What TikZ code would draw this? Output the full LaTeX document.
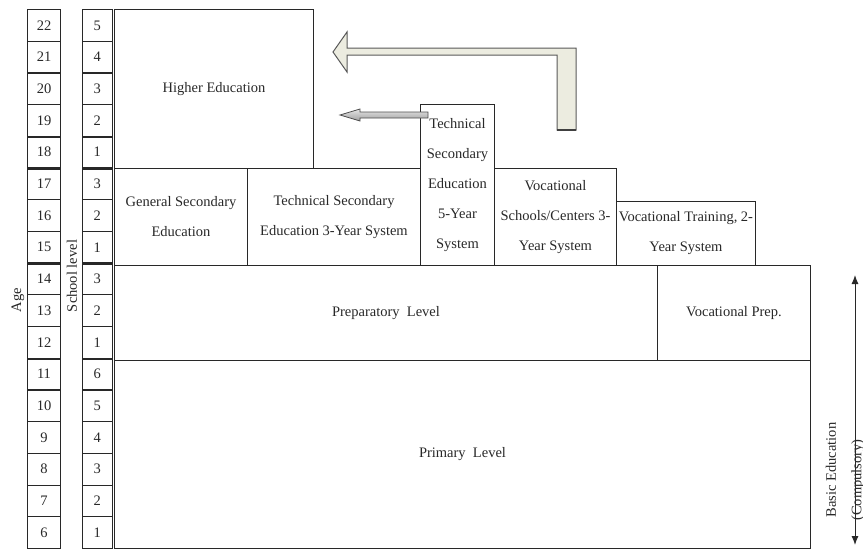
\documentclass[tikz,border=0pt]{standalone}
\usepackage{fontspec}
\setmainfont{Liberation Serif}
\usetikzlibrary{arrows.meta}
\definecolor{beige}{RGB}{236,236,224}
\definecolor{ink}{RGB}{40,40,40}
\begin{document}
\begin{tikzpicture}[x=1pt,y=-1pt,
  box/.style={draw=ink, line width=1pt, inner sep=0pt, anchor=north west,
    font=\fontsize{14.5}{30}\selectfont, text=ink, align=center},
  cell/.style={draw=ink, line width=1pt, anchor=north west, inner sep=0pt,
    minimum height=31.7pt, font=\fontsize{14.5}{16}\selectfont, text=ink},
  sidelbl/.style={rotate=90, inner sep=0pt, font=\fontsize{14.5}{16}\selectfont, text=ink},
  sep/.style={line width=2.4pt, draw=ink},
]
\useasboundingbox (0,0) rectangle (863,550);

% Age and school level columns
\foreach \a/\s [count=\i from 0] in {22/5,21/4,20/3,19/2,18/1,17/3,16/2,15/1,14/3,13/2,12/1,11/6,10/5,9/4,8/3,7/2,6/1}{
  \node[cell, minimum width=33pt] (age\a) at (27,{9+31.7*\i}) {\a};
  \node[cell, minimum width=29.5pt] (lev\a) at (82,{9+31.7*\i}) {\s};
}
% stage separators
\foreach \r in {18,15,12}{
  \draw[sep] (age\r.south west) -- (age\r.south east);
  \draw[sep] (lev\r.south west) -- (lev\r.south east);
}
\foreach \r in {21,19,11,8}{
  \draw[line width=1.6pt, draw=ink] (age\r.south west) -- (age\r.south east);
  \draw[line width=1.6pt, draw=ink] (lev\r.south west) -- (lev\r.south east);
}

\node[sidelbl] (agelbl) at (18,300) {Age};
\node[sidelbl] (levlbl) at (72,276) {School level};

% Main boxes
\node[box, minimum width=199pt, minimum height=159pt] (higher) at (114,9) {Higher Education};
\node[box, minimum width=133pt, minimum height=97pt] (gensec) at (114,168) {General Secondary\\Education};
\node[box, minimum width=173pt, minimum height=97pt] (tech3) at (247,168) {Technical Secondary\\Education 3-Year System};
\node[box, minimum width=74pt, minimum height=161pt] (tech5) at (420,104) {Technical\\Secondary\\Education\\5-Year\\System};
\node[box, minimum width=122pt, minimum height=97pt] (vocsch) at (494,168) {Vocational\\Schools/Centers 3-\\Year System};
\node[box, minimum width=139pt, minimum height=64pt] (voctr) at (616,201) {Vocational Training, 2-\\Year System};
\node[box, minimum width=543pt, minimum height=95pt] (prep) at (114,265) {Preparatory\ \ Level};
\node[box, minimum width=153pt, minimum height=95pt] (vocprep) at (657,265) {Vocational Prep.};
\node[box, minimum width=696pt, minimum height=188pt] (primary) at (114,360) {Primary\ \ Level};

% big bent block arrow
\path[draw=black!65, line width=1pt, fill=beige, line join=miter]
  (333,52) -- (347,32) -- (347,48) -- (576,48) -- (576,130) -- (557,130)
  -- (557,55) -- (347,55) -- (347,72) -- cycle;
\draw[black!75, line width=1.6pt] (557,130) -- (576,130);

% small block arrow
\shade[top color=gray!20, bottom color=gray!75]
  (340,115) -- (360,109) -- (360,112) -- (428,112) -- (428,118) -- (360,118) -- (360,121) -- cycle;
\draw[black!70, line width=0.8pt]
  (340,115) -- (360,109) -- (360,112) -- (428,112) -- (428,118) -- (360,118) -- (360,121) -- cycle;

% right: basic education
\coordinate (btop) at (855,275);
\coordinate (bbot) at (855,545);
\draw[ink, line width=1pt, {Latex[length=9pt,width=7pt]}-{Latex[length=9pt,width=7pt]}] (btop) -- (bbot);
\node[sidelbl] (basic) at (831,470) {Basic Education};
\node[sidelbl] (compul) at (858,480) {(Compulsory)};
\end{tikzpicture}
\end{document}
